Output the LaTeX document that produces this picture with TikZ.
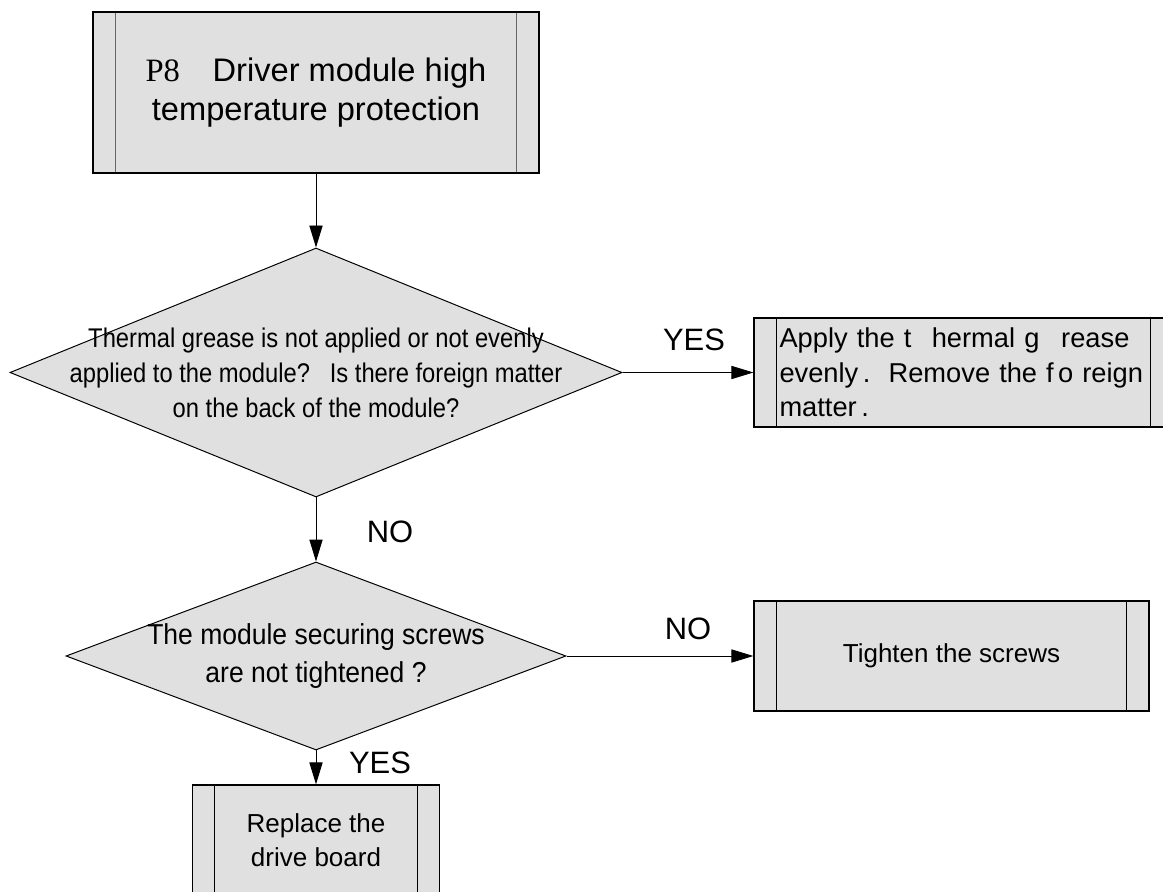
\documentclass[tikz,border=0pt]{standalone}
\usepackage{fontspec}
\setmainfont{Liberation Sans}
\newfontfamily\pfont{Liberation Serif}
\newfontfamily\condfont{Liberation Sans}[FakeStretch=0.88]
\newfontfamily\semifont{Liberation Sans}[FakeStretch=0.92]
\usetikzlibrary{calc,shapes.geometric,arrows.meta}
\definecolor{boxgray}{RGB}{224,224,224}
\tikzset{
  flow/.style={line width=0.7pt, -{Triangle[length=0.55cm,width=0.33cm]}},
  inner/.style={line width=0.8pt},
  procbox/.style={draw, line width=0.9pt, fill=boxgray, rectangle, inner sep=0pt,
    path picture={
      \draw[inner] ([xshift=0.56cm]path picture bounding box.north west)
        -- ([xshift=0.56cm]path picture bounding box.south west);
      \draw[inner] ([xshift=-0.56cm]path picture bounding box.north east)
        -- ([xshift=-0.56cm]path picture bounding box.south east);
    }},
  decision/.style={draw, line width=0.7pt, fill=boxgray, diamond, inner sep=0pt},
  dtxt/.style={font=\condfont\fontsize{19.2}{25}\selectfont, align=center},
  btxt/.style={font=\fontsize{18.5}{24.5}\selectfont},
  lbl/.style={font=\fontsize{22}{26}\selectfont},
  }

\begin{document}
\begin{tikzpicture}[scale=1.0]
  \useasboundingbox (0,0) rectangle (29.075,22.275);
  \clip (0,0) rectangle (29.075,22.275);

  % boxes and decisions
  \node[procbox,inner/.append style={draw=black!60},minimum width=11.15cm,minimum height=4.025cm,
        align=center,font=\fontsize{23.2}{27.5}\selectfont] (fault) at (7.9,19.9625)
        {{\pfont P8}\hspace{1em}Driver module high\\temperature protection};
  \node[decision,minimum width=15.3cm,minimum height=6.225cm] (grease) at (7.9,12.9625) {};
  \node[dtxt] (greaset) at (grease)
        {Thermal grease is not applied or not evenly\\applied to the module?\ \ \ Is there foreign matter\\on the back of the module?};
  \node[procbox,font=\fontsize{19.4}{24.5}\selectfont,minimum width=10.475cm,minimum height=2.725cm,
        text width=9.2cm,align=left] (apply) at (24.0875,12.9625)
        {Apply the t\hspace{0.75em}hermal g\hspace{0.8em}rease\\evenly\,.\ \ Remove the f\kern3pt o reign\\matter\,.};
  \node[decision,minimum width=12.5cm,minimum height=4.7cm] (screws) at (7.9,5.875) {};
  \node[dtxt,font=\semifont\fontsize{20.5}{26.5}\selectfont] (screwst) at (screws)
        {The module securing screws\\are not tightened ?};
  \node[procbox,btxt,minimum width=9.875cm,minimum height=2.75cm] (tighten) at (23.7875,5.875)
        {Tighten the screws};
  \node[procbox,btxt,minimum width=6.175cm,minimum height=2.75cm,align=center] (board) at (7.9,1.275)
        {Replace the\\drive board};

  % connectors
  \draw[flow] (fault) -- (grease);
  \draw[flow] (grease) -- (apply);
  \draw[flow] (grease) -- (screws);
  \draw[flow] (screws) -- (tighten);
  \draw[flow] (screws) -- (board);

  % branch labels
  \node[lbl] (yes1) at (17.35,13.775) {YES};
  \node[lbl] (no1)  at (9.75,8.975)   {NO};
  \node[lbl] (no2)  at (17.2,6.55)    {NO};
  \node[lbl] (yes2) at (9.5,3.2)      {YES};
\end{tikzpicture}
\end{document}
